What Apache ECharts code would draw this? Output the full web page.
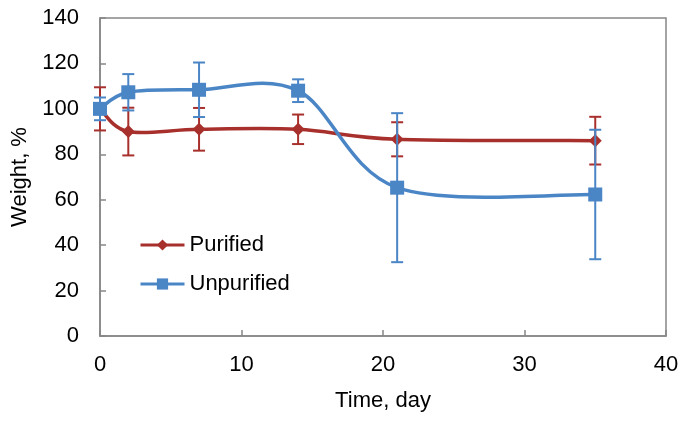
<!DOCTYPE html>
<html>
<head>
<meta charset="utf-8">
<script src="https://cdn.jsdelivr.net/npm/echarts@6/dist/echarts.min.js"></script>
<style>html,body{margin:0;padding:0;background:#fff;}#c{width:685px;height:422px;}</style>
</head>
<body>
<div id="c"></div>
<script>
var days = [0, 2, 7, 14, 21, 35];
var purified = [100, 90, 91, 91, 86.6, 86];
var purifiedErr = [9.5, 10.5, 9.4, 6.5, 7.5, 10.5];
var unpurified = [100, 107.3, 108.4, 108, 65.3, 62.3];
var unpurifiedErr = [5, 8, 12, 5, 32.8, 28.5];
var xTicks = [0, 10, 20, 30, 40];
var yTicks = [0, 20, 40, 60, 80, 100, 120, 140];

var RED = '#A8302C', BLUE = '#4A85C6';
var FONT = 'Liberation Sans, Arial, sans-serif';

function pairs(xs, ys) { return xs.map(function (x, i) { return [x, ys[i]]; }); }
function errData(xs, ys, es) { return xs.map(function (x, i) { return [x, ys[i] - es[i], ys[i] + es[i]]; }); }

function errRender(color) {
  return function (params, api) {
    var lo = api.coord([api.value(0), api.value(1)]);
    var hi = api.coord([api.value(0), api.value(2)]);
    var w = 6;
    var st = { stroke: color, lineWidth: 2 };
    return {
      type: 'group',
      children: [
        { type: 'line', shape: { x1: lo[0], y1: lo[1], x2: hi[0], y2: hi[1] }, style: st },
        { type: 'line', shape: { x1: lo[0] - w, y1: lo[1], x2: lo[0] + w, y2: lo[1] }, style: st },
        { type: 'line', shape: { x1: hi[0] - w, y1: hi[1], x2: hi[0] + w, y2: hi[1] }, style: st }
      ]
    };
  };
}

// Smoothed curve (Catmull-Rom style Bezier, as in spreadsheet "smoothed line"),
// points placed through the chart's axes with api.coord.
function curveRender(xs, ys, color) {
  return function (params, api) {
    var p = xs.map(function (x, i) { return api.coord([x, ys[i]]); });
    var n = p.length;
    var d = 'M' + p[0][0] + ',' + p[0][1];
    for (var i = 0; i < n - 1; i++) {
      var p0 = p[Math.max(i - 1, 0)], p1 = p[i], p2 = p[i + 1], p3 = p[Math.min(i + 2, n - 1)];
      var c1x = p1[0] + (p2[0] - p0[0]) / 6, c1y = p1[1] + (p2[1] - p0[1]) / 6;
      var c2x = p2[0] - (p3[0] - p1[0]) / 6, c2y = p2[1] - (p3[1] - p1[1]) / 6;
      d += ' C' + c1x + ',' + c1y + ' ' + c2x + ',' + c2y + ' ' + p2[0] + ',' + p2[1];
    }
    return {
      type: 'path',
      shape: { pathData: d },
      style: { stroke: color, lineWidth: 3.5, fill: null, lineJoin: 'round', lineCap: 'round' }
    };
  };
}

var chart = echarts.init(document.getElementById('c'));
chart.setOption({
  animation: false,
  backgroundColor: '#fff',
  textStyle: { fontFamily: FONT },
  grid: { left: 100, right: 19, top: 18, bottom: 86, show: true, borderColor: '#868686', borderWidth: 1.5, backgroundColor: 'transparent' },
  legend: {
    orient: 'vertical', left: 134, top: 229,
    itemWidth: 44, itemHeight: 14, itemGap: 17,
    textStyle: { fontSize: 22, color: '#000', fontFamily: FONT, padding: [0, 0, 0, 0] },
    data: [
      { name: 'Purified', lineStyle: { color: RED, width: 3, opacity: 1 } },
      { name: 'Unpurified', lineStyle: { color: BLUE, width: 3, opacity: 1 } }
    ]
  },
  xAxis: {
    type: 'value', min: xTicks[0], max: xTicks[xTicks.length - 1], interval: 10,
    name: 'Time, day', nameLocation: 'middle', nameGap: 54,
    nameTextStyle: { fontSize: 22, color: '#000', fontFamily: FONT },
    axisLine: { lineStyle: { color: '#868686', width: 1.5 } },
    axisTick: { inside: true, length: 6, lineStyle: { color: '#868686', width: 1.5 } },
    axisLabel: { fontSize: 22, color: '#000', margin: 18, fontFamily: FONT },
    splitLine: { show: false }
  },
  yAxis: {
    type: 'value', min: yTicks[0], max: yTicks[yTicks.length - 1], interval: 20,
    name: 'Weight, %', nameLocation: 'middle', nameGap: 66,
    nameTextStyle: { fontSize: 22, color: '#000', fontFamily: FONT },
    axisLine: { show: true, lineStyle: { color: '#868686', width: 1.5 } },
    axisTick: { show: true, inside: true, length: 6, lineStyle: { color: '#868686', width: 1.5 } },
    axisLabel: { fontSize: 22, color: '#000', margin: 21, fontFamily: FONT },
    splitLine: { show: false }
  },
  series: [
    {
      name: 'PurifiedErr', type: 'custom', renderItem: errRender(RED),
      data: errData(days, purified, purifiedErr), z: 2, silent: true
    },
    {
      name: 'PurifiedCurve', type: 'custom', renderItem: curveRender(days, purified, RED),
      data: [[days[0], purified[0]]], z: 3, silent: true, clip: true
    },
    {
      name: 'Purified', type: 'line', data: pairs(days, purified),
      symbol: 'diamond', symbolSize: 13, showAllSymbol: true,
      lineStyle: { color: RED, width: 3, opacity: 0 }, itemStyle: { color: RED }, z: 4
    },
    {
      name: 'UnpurifiedErr', type: 'custom', renderItem: errRender(BLUE),
      data: errData(days, unpurified, unpurifiedErr), z: 5, silent: true
    },
    {
      name: 'UnpurifiedCurve', type: 'custom', renderItem: curveRender(days, unpurified, BLUE),
      data: [[days[0], unpurified[0]]], z: 6, silent: true, clip: true
    },
    {
      name: 'Unpurified', type: 'line', data: pairs(days, unpurified),
      symbol: 'rect', symbolSize: 14, showAllSymbol: true,
      lineStyle: { color: BLUE, width: 3, opacity: 0 }, itemStyle: { color: BLUE }, z: 7
    }
  ]
});
</script>
</body>
</html>
